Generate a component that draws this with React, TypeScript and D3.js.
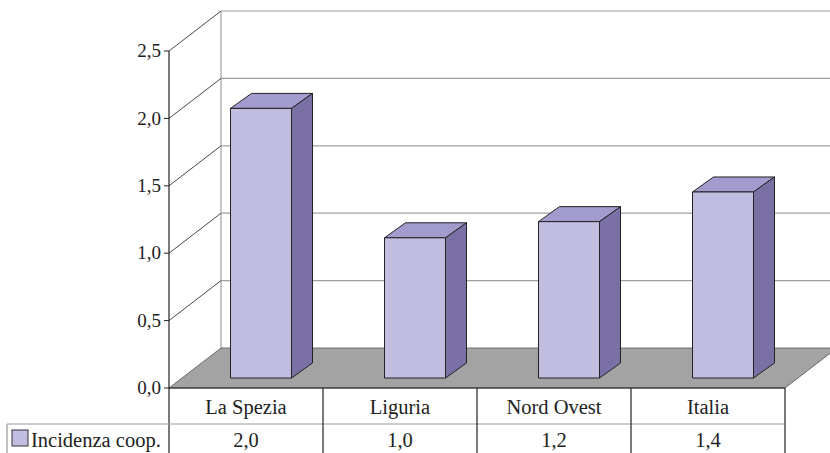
import React from 'react';
import * as d3 from 'd3';

const categories = ['La Spezia', 'Liguria', 'Nord Ovest', 'Italia'];
const values = [2.0, 1.04, 1.16, 1.38];
const seriesName = 'Incidenza coop.';
const yTicks = [0, 0.5, 1, 1.5, 2, 2.5];

const W = 830;
const H = 453;
const left = 169;
const right = 785;
const floorY = 388;
const depthX = 52;
const depthY = 40;
const barDX = 21;
const barDY = 15;
const barShiftX = 15;
const barShiftY = 10;
const barW = 61;
const row1 = 424;
const txt = { fontFamily: "'Liberation Serif', 'Times New Roman', serif" };

const fmt = (v: number) => d3.format('.1f')(v).replace('.', ',');

const App = () => {
  const y = d3.scaleLinear().domain([0, 2.5]).range([floorY, 51]);
  const x = d3.scaleBand().domain(categories).range([left, right]).padding(0);

  const floor = [
    [left, floorY],
    [right, floorY],
    [right + depthX, floorY - depthY],
    [left + depthX, floorY - depthY]
  ];

  return (
    <svg width={W} height={H} style={{ position: 'absolute', left: 0, top: 0, background: '#fff', ...txt }}>
      {/* back wall */}
      <line x1={left + depthX} x2={left + depthX} y1={y(2.5) - depthY} y2={floorY - depthY} stroke="#a0a0a0" strokeWidth={1.2} />
      {yTicks.filter((t) => t > 0).map((t) => (
        <g key={t}>
          <line x1={left + depthX} x2={W} y1={y(t) - depthY} y2={y(t) - depthY} stroke="#a0a0a0" strokeWidth={1.2} />
          <line x1={left} x2={left + depthX} y1={y(t)} y2={y(t) - depthY} stroke="#333" strokeWidth={0.9} />
        </g>
      ))}
      {/* floor */}
      <polygon points={floor.map((p) => p.join(',')).join(' ')} fill="#a3a3a3" stroke="#555" strokeWidth={0.8} />

      {/* bars */}
      {categories.map((c, i) => {
        const cx = (x(c) as number) + x.bandwidth() / 2 + barShiftX;
        const x0 = cx - barW / 2;
        const x1 = cx + barW / 2;
        const base = floorY - barShiftY;
        const top = y(values[i]) - barShiftY;
        return (
          <g key={c} stroke="#222" strokeWidth={1} strokeLinejoin="round">
            <polygon points={`${x0},${top} ${x0 + barDX},${top - barDY} ${x1 + barDX},${top - barDY} ${x1},${top}`} fill="#a29bcd" />
            <polygon points={`${x1},${top} ${x1 + barDX},${top - barDY} ${x1 + barDX},${base - barDY} ${x1},${base}`} fill="#7b70a6" />
            <rect x={x0} y={top} width={barW} height={base - top} fill="#c1bde0" />
          </g>
        );
      })}

      {/* y axis */}
      <line x1={left} x2={left} y1={y(2.5)} y2={H} stroke="#222" strokeWidth={1.2} />
      {yTicks.map((t) => (
        <g key={t}>
          <line x1={left - 5} x2={left} y1={y(t)} y2={y(t)} stroke="#222" />
          <text x={left - 8} y={y(t)} dy="0.33em" textAnchor="end" fontSize={19} fill="#222" style={txt}>{fmt(t)}</text>
        </g>
      ))}

      {/* data table */}
      <line x1={left} x2={right} y1={floorY} y2={floorY} stroke="#222" strokeWidth={1.2} />
      <line x1={7} x2={right} y1={row1} y2={row1} stroke="#999" strokeWidth={1.2} />
      <line x1={7} x2={7} y1={row1} y2={H} stroke="#999" strokeWidth={1.2} />
      {categories.map((c, i) => (
        <g key={c}>
          <line x1={(x(c) as number) + x.bandwidth()} x2={(x(c) as number) + x.bandwidth()} y1={floorY} y2={H} stroke="#222" strokeWidth={1.2} />
          <text x={(x(c) as number) + x.bandwidth() / 2} y={414} textAnchor="middle" fontSize={20.5} fill="#222" style={txt}>{c}</text>
          <text x={(x(c) as number) + x.bandwidth() / 2} y={447} textAnchor="middle" fontSize={20.5} fill="#222" style={txt}>{fmt(values[i])}</text>
        </g>
      ))}
      <rect x={12} y={430} width={16} height={16} fill="#c1bde0" stroke="#333" strokeWidth={1} />
      <text x={31} y={447} fontSize={20.5} fill="#222" style={txt}>{seriesName}</text>
    </svg>
  );
};

export default App;
